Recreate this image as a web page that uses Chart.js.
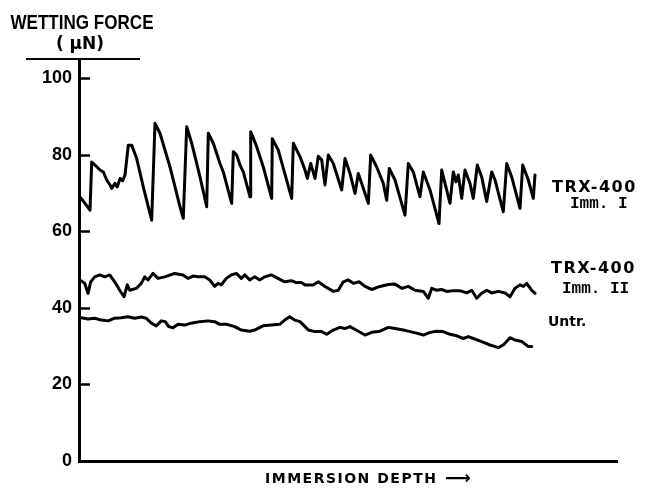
<!DOCTYPE html>
<html>
<head>
<meta charset="utf-8">
<script src="https://cdn.jsdelivr.net/npm/chart.js@4"></script>
<style>
  html, body { margin: 0; padding: 0; background: #fff; }
  #wrap { width: 646px; height: 502px; }
</style>
</head>
<body>
<div id="wrap"><canvas id="chart" width="646" height="502"></canvas></div>
<script>
// ─── DATA ────────────────────────────────────────────────────────────────────

const yTicks = [0, 20, 40, 60, 80, 100];

// TRX-400 Imm. I
const imm1Depth = [1, 6, 11, 12.7, 16, 21, 24.3, 27.7, 31, 32.7, 36, 38.3, 41, 43.7, 46, 49.3, 52.7, 57.7, 64.3, 69.3,
  72.7, 76, 81, 91, 101, 104.3, 107.7, 112.7, 121, 127.7, 129.3, 134.3, 141, 144.3, 152.7, 154.3, 157.7, 161, 164.3, 171,
  171.7, 177.7, 184.3, 192.7, 193.3, 199.3, 212.7, 214.3, 221, 226, 228.3, 231.7, 236, 239.3, 242.7, 246, 249.3, 254.3, 262.7, 266,
  271, 276, 279.3, 282.7, 289.3, 291.7, 297.7, 304.3, 307.7, 310.3, 316, 326, 329.3, 334.3, 341, 344.3, 351, 360, 362.7, 366,
  371, 374.3, 377, 379.3, 382.7, 386, 391, 394.3, 398.3, 402.7, 407.7, 412.7, 416, 424.3, 427.7, 432.7, 441, 443.7, 449.3, 454.3, 456];
const imm1Force = [69.0, 67.3, 65.5, 78.1, 77.3, 76.0, 75.5, 73.4, 72.1, 71.2, 72.5, 71.6, 73.8, 73.2, 74.7, 82.5, 82.5, 79.0, 71.6, 66.4,
  62.9, 88.2, 85.6, 76.8, 66.4, 63.4, 87.3, 83.0, 74.2, 66.4, 85.6, 83.0, 77.7, 75.5, 67.3, 80.8, 79.9, 77.3, 75.5, 69.0,
  86.0, 82.1, 76.8, 68.6, 84.2, 81.2, 68.6, 83.0, 79.5, 76.0, 73.8, 77.7, 73.8, 79.6, 78.6, 72.1, 79.9, 77.7, 70.8, 79.0,
  75.1, 69.9, 75.1, 72.5, 67.3, 79.9, 76.8, 72.5, 68.1, 76.4, 73.4, 64.2, 77.7, 75.5, 69.0, 75.5, 70.8, 62.0, 76.0, 72.5,
  67.3, 75.5, 72.9, 74.7, 68.6, 76.0, 72.5, 68.6, 77.3, 74.2, 67.8, 75.5, 73.4, 65.1, 77.7, 74.2, 66.0, 77.3, 73.4, 68.6, 74.7];

// TRX-400 Imm. II
const imm2Depth = [0.7, 5.7, 9, 11.7, 15.7, 20.7, 25.7, 30.7, 35.7, 40.7, 45, 48.3, 50.7, 57.3, 62.3, 65.7, 69, 74, 79, 85.7,
  95.7, 104, 109, 114, 119, 125.7, 130.7, 135.7, 139, 142.3, 147.3, 152.3, 157.3, 162.3, 165.7, 170.7, 175.7, 180.7, 185.7, 192.3,
  199, 205.7, 212.3, 217.3, 222.3, 226, 234.3, 239.3, 246, 254.3, 259.3, 264.3, 269.3, 274.3, 280.3, 286, 292.7, 301, 309.3, 316,
  322.7, 329.3, 336, 344.3, 349.3, 352.7, 357.7, 362.7, 367.7, 374.3, 381, 387.7, 392.7, 397.7, 402.7, 407.7, 412.7, 419.3, 426, 431,
  436, 441, 444.3, 447.7, 452.7, 456];
const imm2Force = [47.3, 46.4, 43.8, 46.8, 48.1, 48.6, 48.1, 48.6, 46.8, 44.6, 42.9, 46.0, 44.6, 45.1, 46.4, 48.1, 47.3, 49.0, 47.7, 48.1,
  49.0, 48.6, 47.7, 48.3, 48.1, 48.1, 47.3, 45.6, 46.4, 46.0, 47.7, 48.6, 49.0, 47.7, 48.6, 47.3, 48.1, 47.3, 48.1, 48.6,
  47.7, 46.8, 47.1, 46.6, 46.6, 46.0, 46.0, 46.8, 45.6, 44.3, 44.6, 46.8, 47.3, 46.4, 46.8, 45.6, 44.8, 45.6, 46.1, 46.2,
  45.1, 45.6, 44.6, 44.3, 42.5, 45.1, 44.6, 44.8, 44.3, 44.5, 44.5, 43.9, 44.6, 42.5, 43.8, 44.6, 43.9, 44.3, 43.9, 42.9,
  45.1, 46.0, 45.6, 46.4, 44.6, 43.8];

// Untreated
const untrDepth = [2.3, 9, 15.7, 22.3, 29, 35.7, 42.3, 49, 55.7, 62.3, 67.3, 72.3, 77.3, 82.3, 86.3, 89.7, 94, 99, 105.7, 112.3,
  120.7, 129, 135.7, 140.7, 147.3, 155.7, 162.3, 170.7, 175.7, 184, 192.3, 200.7, 205.7, 210.7, 215.7, 221, 226, 229.3, 236, 242.7,
  247.7, 254.3, 261, 266, 271, 279.3, 286, 292.7, 301, 309.3, 316, 324.3, 331, 337.7, 344.3, 351, 357.7, 364.3, 371, 377.7,
  384.3, 389.3, 394.3, 402.7, 411, 419.3, 424.3, 431, 436, 442.7, 449.3, 452.7];
const untrForce = [37.4, 37.1, 37.3, 36.8, 36.6, 37.3, 37.4, 37.7, 37.3, 37.6, 37.3, 36.0, 35.3, 36.6, 36.4, 35.1, 34.8, 35.7, 35.5, 36.0,
  36.4, 36.6, 36.4, 35.7, 35.7, 35.1, 34.2, 33.9, 34.2, 35.3, 35.5, 35.7, 36.8, 37.7, 36.8, 36.4, 35.1, 34.2, 33.8, 33.8,
  33.1, 34.2, 34.9, 34.6, 35.1, 33.9, 32.9, 33.6, 33.9, 34.9, 34.6, 34.2, 33.8, 33.4, 32.9, 33.6, 33.9, 33.8, 33.1, 32.7,
  32.0, 32.5, 32.0, 31.2, 30.3, 29.6, 30.3, 32.2, 31.6, 31.2, 29.9, 29.9];

const pts = (xs, ys) => xs.map((x, i) => ({ x, y: ys[i] }));

// ─── DECORATIONS (headings, inside ticks, curve labels) ─────────────────────

const ink = '#000';
const decor = {
  id: 'decor',
  afterDraw(chart) {
    const { ctx, chartArea: a, scales: { y } } = chart;
    ctx.save();
    ctx.strokeStyle = ink;
    ctx.fillStyle = ink;
    ctx.lineCap = 'butt';

    // tick marks pointing into the plot
    ctx.lineWidth = 2.5;
    yTicks.slice(1).forEach(v => {
      const py = Math.round(y.getPixelForValue(v)) + 0.5;
      ctx.beginPath();
      ctx.moveTo(a.left, py);
      ctx.lineTo(a.left + 11, py);
      ctx.stroke();
    });

    // bar under the axis heading
    ctx.lineWidth = 2;
    ctx.beginPath();
    ctx.moveTo(26, a.top);
    ctx.lineTo(140, a.top);
    ctx.stroke();

    ctx.textAlign = 'center';
    ctx.textBaseline = 'middle';
    ctx.font = 'bold 20px "Liberation Sans", sans-serif';
    ctx.fillText('WETTING FORCE', 82, 23, 143);
    ctx.font = 'bold 17px "DejaVu Sans", sans-serif';
    ctx.fillText('( \u03bcN)', 80, 45);

    ctx.textAlign = 'left';
    ctx.letterSpacing = '1.5px';
    ctx.font = 'bold 14px "DejaVu Sans", sans-serif';
    ctx.fillText('IMMERSION DEPTH', 265, 479);
    ctx.letterSpacing = '0px';
    ctx.font = 'bold 18px "DejaVu Sans", sans-serif';
    ctx.fillText('\u27f6', 445, 479);

    // curve labels
    ctx.letterSpacing = '1.5px';
    ctx.font = 'bold 16px "DejaVu Sans", sans-serif';
    ctx.fillText('TRX-400', 552, 188);
    ctx.fillText('TRX-400', 551, 269);
    ctx.letterSpacing = '0px';
    ctx.font = 'bold 16px "Liberation Mono", monospace';
    ctx.fillText('Imm. I', 570, 204);
    ctx.fillText('Imm. II', 562, 289);
    ctx.font = 'bold 14px "DejaVu Sans", sans-serif';
    ctx.fillText('Untr.', 548, 322);
    ctx.restore();
  }
};

// ─── CHART ───────────────────────────────────────────────────────────────────

const lineStyle = { borderColor: ink, borderWidth: 3, pointRadius: 0, tension: 0, fill: false, borderJoinStyle: 'round', borderCapStyle: 'round' };

new Chart(document.getElementById('chart'), {
  type: 'line',
  data: {
    datasets: [
      { label: 'TRX-400 Imm. I', data: pts(imm1Depth, imm1Force), ...lineStyle },
      { label: 'TRX-400 Imm. II', data: pts(imm2Depth, imm2Force), ...lineStyle },
      { label: 'Untr.', data: pts(untrDepth, untrForce), ...lineStyle }
    ]
  },
  options: {
    responsive: false,
    animation: false,
    layout: { padding: { left: 0, top: 59, right: 29, bottom: 41 } },
    plugins: { legend: { display: false }, tooltip: { enabled: false } },
    scales: {
      x: {
        type: 'linear', min: 0, max: 538,
        grid: { display: false },
        border: { display: true, color: ink, width: 3 },
        ticks: { display: false },
        afterFit: s => { s.height = 0; }
      },
      y: {
        min: 0, max: 105,
        afterBuildTicks: s => { s.ticks = yTicks.map(v => ({ value: v })); },
        grid: { display: false, drawTicks: false },
        border: { display: true, color: ink, width: 3 },
        ticks: { color: ink, padding: 7, font: { family: 'Liberation Sans', size: 18, weight: 'bold' } },
        afterFit: s => { s.width = 79; }
      }
    }
  },
  plugins: [decor]
});
</script>
</body>
</html>
